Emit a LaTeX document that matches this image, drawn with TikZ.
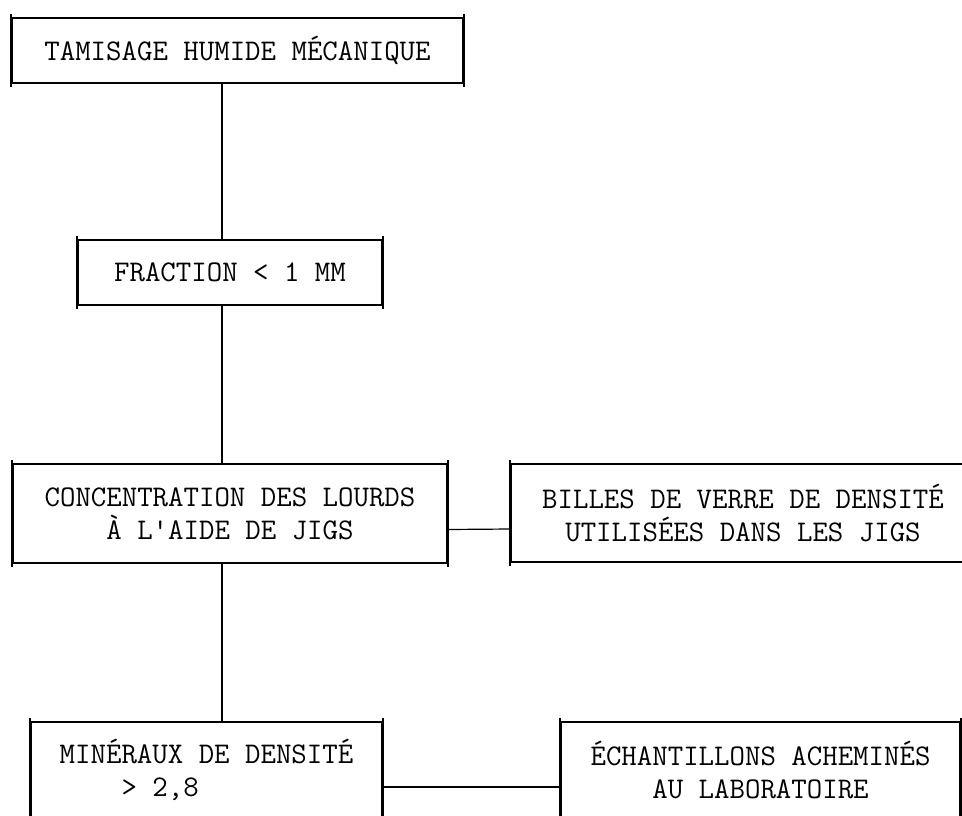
\documentclass[tikz,border=0pt]{standalone}
\usepackage{fontspec}

\tikzset{every picture/.style={line width=1.2pt}}
\tikzset{
  stepbox/.style={draw, line width=1.6pt, inner sep=0pt, align=center,
    font=\ttfamily\fontsize{30}{33}\selectfont},
  side/.style={line width=1.6pt}
}

\begin{document}
\begin{tikzpicture}[x=1pt,y=1pt,yscale=-1,xscale=1]
\useasboundingbox (0,0) rectangle (962,815);
\clip (0,0) rectangle (962,815);

% Boxes
\node [stepbox, minimum width=451, minimum height=65] (tamis) at (237.5,50.5) {TAMISAGE HUMIDE MÉCANIQUE};
\node [stepbox, minimum width=304, minimum height=65] (fraction) at (230,272.5) {FRACTION < 1 MM};
\node [stepbox, minimum width=434, minimum height=99] (concentration) at (230,513.5) {CONCENTRATION DES LOURDS\\À L'AIDE DE JIGS};
\node [stepbox, minimum width=464, minimum height=98] (billes) at (743,513) {BILLES DE VERRE DE DENSITÉ\\UTILISÉES DANS LES JIGS};
\node [stepbox, align=left, minimum width=351, minimum height=96] (mineraux) at (206.5,770) {MINÉRAUX DE DENSITÉ\\\phantom{MINÉ}> 2,8};
\node [stepbox, minimum width=399, minimum height=96] (echant) at (760.5,770) {ÉCHANTILLONS ACHEMINÉS\\AU LABORATOIRE};

% Sides running past the corners
\foreach \n in {tamis,fraction,concentration,billes,mineraux,echant}
  \draw [side] ([yshift=-3]\n.north west) -- ([yshift=3]\n.south west)
               ([yshift=-3]\n.north east) -- ([yshift=3]\n.south east);

% Connectors
\coordinate (trunk) at (222,0);
\draw (tamis.south -| trunk) -- (fraction.north -| trunk);
\draw (fraction.south -| trunk) -- (concentration.north -| trunk);
\draw (concentration.south -| trunk) -- (mineraux.north -| trunk);
\draw ([yshift=16]concentration.east) -- ([yshift=16]billes.west);
\draw ([yshift=17]mineraux.east) -- ([yshift=17]echant.west);

\end{tikzpicture}
\end{document}
